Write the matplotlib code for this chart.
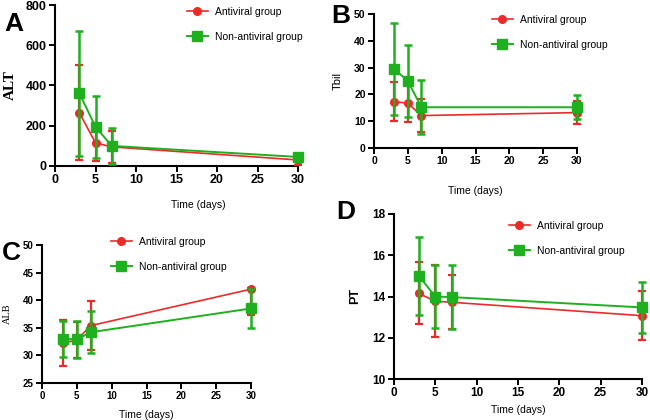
import numpy as np
import matplotlib.pyplot as plt

days = [3, 5, 7, 30]
labels = ['Antiviral group', 'Non-antiviral group']

# ALT
alt_av = [265, 115, 95, 30]
alt_av_err = [235, 90, 80, 25]
alt_non = [362, 195, 100, 45]
alt_non_err = [310, 155, 88, 12]

# Tbil
tbil_av = [17.3, 16.7, 12.1, 13.2]
tbil_av_err = [7.3, 7.0, 6.2, 4.3]
tbil_non = [29.5, 25.0, 15.2, 15.2]
tbil_non_err = [17.2, 13.3, 10.0, 4.5]

# ALB (lower, upper)
alb_av = [32.2, 32.8, 35.4, 42.0]
alb_av_lo = [4.2, 3.2, 4.4, 4.7]
alb_av_hi = [4.2, 3.2, 4.5, 0.3]
alb_non = [33.0, 32.9, 34.2, 38.5]
alb_non_err = [3.2, 3.3, 3.8, 3.5]

# PT
pt_av = [14.15, 13.77, 13.72, 13.07]
pt_av_err = [1.5, 1.75, 1.3, 1.2]
pt_non = [15.0, 14.0, 13.97, 13.47]
pt_non_err = [1.9, 1.55, 1.55, 1.25]

RED = '#ec2a2a'
GREEN = '#1fb01f'
W, H = 650, 420

plt.rcParams['font.family'] = 'Liberation Sans'
fig = plt.figure(figsize=(6.5, 4.2), dpi=100)


def box(l, r, t, b):
    return [l / W, 1 - b / H, (r - l) / W, (b - t) / H]


def panel(rect, av, av_err, non, non_err, ylim, yticks, tsize):
    ax = fig.add_axes(rect)
    ax.errorbar(days, av, yerr=av_err, color=RED, marker='o', ms=5.5,
                lw=1.2, elinewidth=1.6, capsize=3, capthick=1.6,
                label=labels[0], clip_on=False, zorder=3)
    ax.errorbar(days, non, yerr=non_err, color=GREEN, marker='s', ms=6.5,
                lw=1.4, elinewidth=1.8, capsize=3, capthick=1.8,
                label=labels[1], clip_on=False, zorder=4)
    ax.set_xlim(0, 30)
    ax.set_ylim(*ylim)
    ax.set_xticks(range(0, 31, 5))
    ax.set_yticks(yticks)
    for s in ['top', 'right']:
        ax.spines[s].set_visible(False)
    for s in ['left', 'bottom']:
        ax.spines[s].set_linewidth(1.5)
    ax.tick_params(width=1.4, length=4, labelsize=tsize, pad=2)
    for t in ax.get_xticklabels() + ax.get_yticklabels():
        t.set_fontweight('bold')
    return ax


def legend(ax, x, y, size=7.5):
    handles, names = ax.get_legend_handles_labels()
    handles = [h[0] for h in handles]
    ax.legend(handles, names, loc='upper left', bbox_to_anchor=(x / W, 1 - y / H),
              bbox_transform=fig.transFigure, frameon=False, fontsize=size,
              borderpad=0, borderaxespad=0, labelspacing=1.45,
              handlelength=2.0, handletextpad=0.7)


# A
axA = panel(box(55, 298, 5, 166), alt_av, alt_av_err, alt_non, alt_non_err,
            (0, 800), range(0, 801, 200), 9)
axA.set_ylabel('ALT', family='Liberation Serif', fontweight='bold',
               fontsize=11, labelpad=6)
fig.text(198 / W, 1 - 205 / H, 'Time (days)', ha='center', va='center', fontsize=7.5)
legend(axA, 187, 7)
fig.text(4 / W, 1 - 24 / H, 'A', fontsize=19, fontweight='bold', va='center')

# B
axB = panel(box(374, 577, 14, 148), tbil_av, tbil_av_err, tbil_non, tbil_non_err,
            (0, 50), range(0, 51, 10), 7.5)
axB.set_ylabel('Tbil', fontsize=8, labelpad=8)
axB.set_xlabel('Time (days)', fontsize=7.5, labelpad=14)
legend(axB, 492, 15)
fig.text(331 / W, 1 - 16 / H, 'B', fontsize=19, fontweight='bold', va='center')

# C
axC = panel(box(42, 251, 245, 383), alb_av, [alb_av_lo, alb_av_hi], alb_non, alb_non_err,
            (25, 50), range(25, 51, 5), 7)
axC.set_ylabel('ALB', family='Liberation Serif', fontsize=7.5, labelpad=8)
axC.set_xlabel('Time (days)', fontsize=7.5, labelpad=6)
legend(axC, 111, 237)
fig.text(2 / W, 1 - 253 / H, 'C', fontsize=19, fontweight='bold', va='center')

# D
axD = panel(box(394, 642, 214, 379), pt_av, pt_av_err, pt_non, pt_non_err,
            (10, 18), range(10, 19, 2), 8.5)
axD.set_ylabel('PT', fontsize=9, fontweight='bold', labelpad=8)
axD.set_xlabel('Time (days)', fontsize=7.5, labelpad=4)
legend(axD, 509, 221)
fig.text(336 / W, 1 - 212 / H, 'D', fontsize=19, fontweight='bold', va='center')

fig.savefig('out.png', dpi=100)
